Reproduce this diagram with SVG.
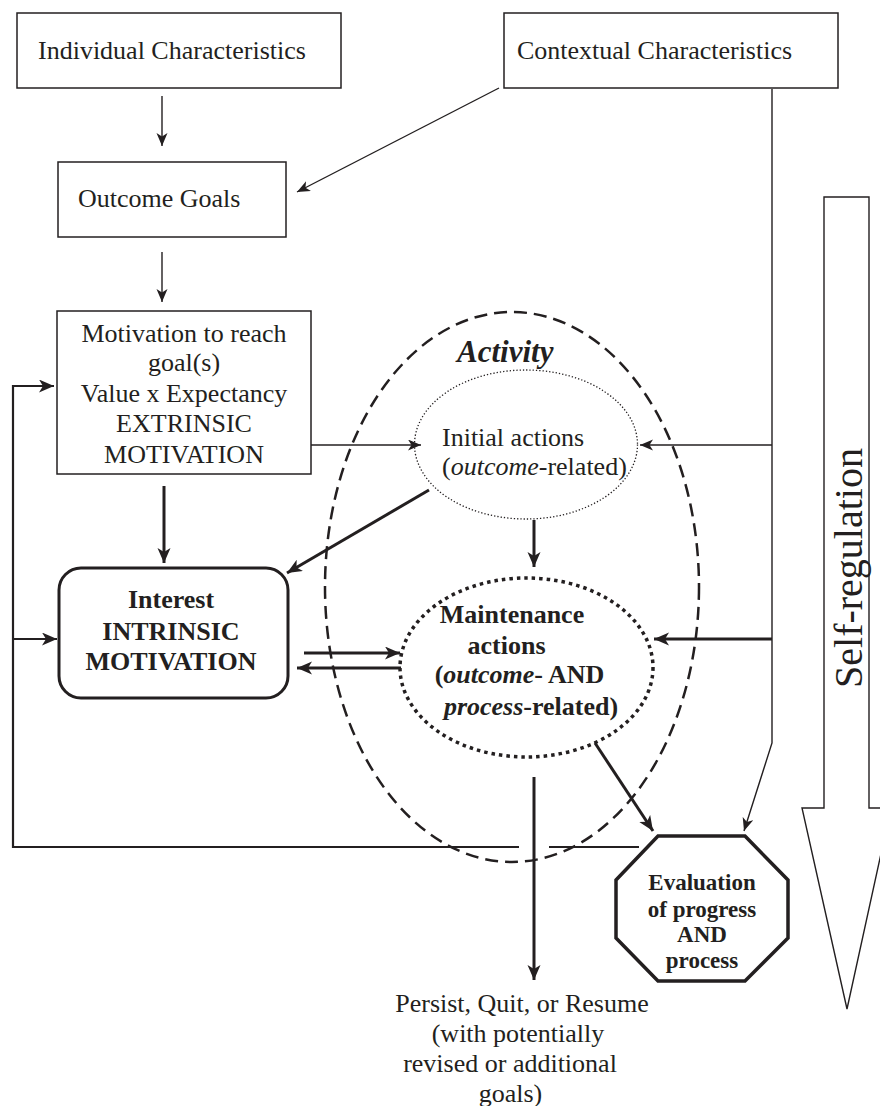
<svg xmlns="http://www.w3.org/2000/svg" width="880" height="1106" viewBox="0 0 880 1106">
<style>
text{font-family:"Liberation Serif","Times New Roman",serif;fill:#231f20;}
.r{font-size:26px;}
.b{font-size:26px;font-weight:bold;}
.box{fill:#fff;stroke:#231f20;stroke-width:1.5;}
.thin{fill:none;stroke:#231f20;stroke-width:1.4;}
.thick{fill:none;stroke:#231f20;stroke-width:3;}
.fb{fill:none;stroke:#231f20;stroke-width:2.2;}
</style>
<defs>
<marker id="at" markerUnits="userSpaceOnUse" markerWidth="15" markerHeight="13" refX="13" refY="5.5" orient="auto">
<path d="M0,0 L13,5.5 L0,11 L3.5,5.5 z" fill="#231f20"/>
</marker>
<marker id="ak" markerUnits="userSpaceOnUse" markerWidth="17" markerHeight="15" refX="15" refY="6.5" orient="auto">
<path d="M0,0 L15,6.5 L0,13 L4,6.5 z" fill="#231f20"/>
</marker>
</defs>
<rect width="880" height="1106" fill="#fff"/>

<g id="self-regulation">
<polygon points="824,197 869,197 869,808 891,808 847,1009 802,808 824,808" fill="#fff" stroke="#231f20" stroke-width="1.4"/>
<text x="862" y="568" font-size="40" text-anchor="middle" transform="rotate(-90 862 568)">Self-regulation</text>
</g>

<g id="activity">
<ellipse cx="512" cy="587" rx="187" ry="275" fill="none" stroke="#231f20" stroke-width="2.5" stroke-dasharray="13 7"/>
<text x="457" y="362" font-size="31" font-weight="bold" font-style="italic">Activity</text>
</g>

<g id="connectors">
<line class="thin" x1="162" y1="96" x2="162" y2="146" marker-end="url(#at)"/>
<line class="thin" x1="162" y1="252" x2="162" y2="302" marker-end="url(#at)"/>
<line class="thin" x1="499" y1="88" x2="297" y2="192" stroke-width="2" marker-end="url(#at)"/>
<polyline class="thin" points="772,89 772,743 744,831" marker-end="url(#at)"/>
<line class="thin" x1="772" y1="445" x2="640" y2="445" marker-end="url(#at)"/>
<line class="thick" x1="772" y1="639" x2="654" y2="639" marker-end="url(#ak)"/>
<line class="thin" x1="311" y1="445" x2="421" y2="445" marker-end="url(#at)"/>
<line class="thick" x1="164" y1="486" x2="164" y2="563" marker-end="url(#ak)"/>
<line class="thick" x1="429" y1="490" x2="287" y2="573" marker-end="url(#ak)"/>
<line class="thick" x1="534" y1="520" x2="534" y2="567" marker-end="url(#ak)"/>
<line class="thick" x1="304" y1="653" x2="400" y2="653" marker-end="url(#ak)"/>
<line class="thick" x1="401" y1="668" x2="297" y2="668" marker-end="url(#ak)"/>
<line class="thick" x1="595" y1="743" x2="653" y2="831" marker-end="url(#ak)"/>
<line class="thick" x1="534" y1="777" x2="534" y2="980" stroke-width="2.6" marker-end="url(#ak)"/>
<line class="fb" x1="639" y1="847" x2="549" y2="847"/>
<polyline class="fb" points="519,847 13,847 13,386 54,386" marker-end="url(#ak)"/>
<line class="fb" x1="13" y1="639" x2="57" y2="639" marker-end="url(#ak)"/>
</g>

<g id="individual">
<rect class="box" x="17" y="13" width="324" height="75"/>
<text class="r" x="38" y="59">Individual Characteristics</text>
</g>

<g id="contextual">
<rect class="box" x="504" y="13" width="334" height="75"/>
<text class="r" x="517" y="59">Contextual Characteristics</text>
</g>

<g id="outcome-goals">
<rect class="box" x="58" y="162" width="228" height="75"/>
<text class="r" x="78" y="207">Outcome Goals</text>
</g>

<g id="motivation">
<rect class="box" x="57" y="311" width="254" height="163"/>
<text class="r" text-anchor="middle" x="184" y="342">Motivation to reach</text>
<text class="r" text-anchor="middle" x="184" y="371">goal(s)</text>
<text class="r" text-anchor="middle" x="184" y="402">Value x Expectancy</text>
<text class="r" text-anchor="middle" x="184" y="432">EXTRINSIC</text>
<text class="r" text-anchor="middle" x="184" y="463">MOTIVATION</text>
</g>

<g id="interest">
<rect x="59" y="568" width="229" height="130" rx="22" fill="#fff" stroke="#231f20" stroke-width="3"/>
<text class="b" text-anchor="middle" x="171" y="608">Interest</text>
<text class="b" text-anchor="middle" x="171" y="640">INTRINSIC</text>
<text class="b" text-anchor="middle" x="171" y="670">MOTIVATION</text>
</g>

<g id="initial-actions">
<ellipse cx="526" cy="444.5" rx="111.5" ry="74.5" fill="none" stroke="#231f20" stroke-width="1.3" stroke-dasharray="1.3 2"/>
<text class="r" x="442" y="446">Initial actions</text>
<text class="r" x="442" y="475">(<tspan font-style="italic">outcome</tspan>-related)</text>
</g>

<g id="maintenance-actions">
<ellipse cx="526.5" cy="667.5" rx="126.5" ry="89.5" fill="none" stroke="#231f20" stroke-width="3.5" stroke-dasharray="3.5 4"/>
<text class="b" text-anchor="middle" x="512" y="623">Maintenance</text>
<text class="b" text-anchor="middle" x="506.5" y="654">actions</text>
<text class="b" text-anchor="middle" x="519.5" y="683">(<tspan font-style="italic">outcome</tspan>- AND</text>
<text class="b" text-anchor="middle" x="531" y="715"><tspan font-style="italic">process</tspan>-related)</text>
</g>

<g id="evaluation">
<polygon points="658,836 745,836 788,880 788,938 745,981 658,981 616,938 616,880" fill="#fff" stroke="#231f20" stroke-width="3.5"/>
<text text-anchor="middle" x="702" y="890" font-size="23" font-weight="bold">Evaluation</text>
<text text-anchor="middle" x="702" y="917" font-size="23" font-weight="bold">of progress</text>
<text text-anchor="middle" x="702" y="942" font-size="23" font-weight="bold">AND</text>
<text text-anchor="middle" x="702" y="968" font-size="23" font-weight="bold">process</text>
</g>

<g id="outcome-result">
<text class="r" text-anchor="middle" x="522" y="1012">Persist, Quit, or Resume</text>
<text class="r" text-anchor="middle" x="518" y="1042">(with potentially</text>
<text class="r" text-anchor="middle" x="510" y="1072">revised or additional</text>
<text class="r" text-anchor="middle" x="510.5" y="1102">goals)</text>
</g>
</svg>
